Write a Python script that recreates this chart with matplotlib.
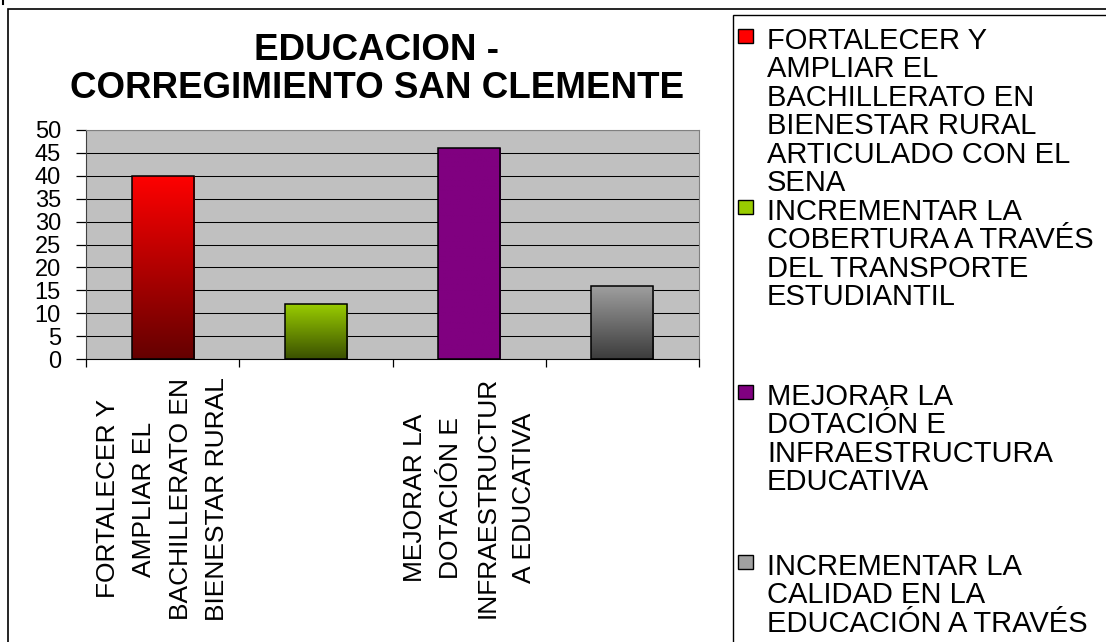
import numpy as np
import matplotlib
matplotlib.use("Agg")
import matplotlib.pyplot as plt
from matplotlib.patches import Rectangle
from matplotlib.lines import Line2D
from matplotlib.colors import LinearSegmentedColormap

plt.rcParams['font.family'] = ['Liberation Sans', 'DejaVu Sans']

# Datos
categorias = [
    "FORTALECER Y\nAMPLIAR EL\nBACHILLERATO EN\nBIENESTAR RURAL",
    "",
    "MEJORAR LA\nDOTACIÓN E\nINFRAESTRUCTUR\nA EDUCATIVA",
    "",
]
valores = [40, 12, 46, 16]
leyenda = [
    "FORTALECER Y\nAMPLIAR EL\nBACHILLERATO EN\nBIENESTAR RURAL\nARTICULADO CON EL\nSENA",
    "INCREMENTAR LA\nCOBERTURA A TRAVÉS\nDEL TRANSPORTE\nESTUDIANTIL",
    "MEJORAR LA\nDOTACIÓN E\nINFRAESTRUCTURA\nEDUCATIVA",
    "INCREMENTAR LA\nCALIDAD EN LA\nEDUCACIÓN A TRAVÉS",
]
# colores (arriba, abajo) de cada barra
colores = [("#ff0000", "#640000"), ("#99cc00", "#3a5000"),
           ("#800080", "#800080"), ("#a0a0a0", "#3c3c3c")]
yticks = list(range(0, 51, 5))

W, H = 1106, 642
fig = plt.figure(figsize=(W / 100, H / 100), dpi=100)
fx = lambda px: px / W
fy = lambda py: 1 - py / H

ax = fig.add_axes([fx(86), fy(359), fx(699) - fx(86), fy(130) - fy(359)])
ax.set_facecolor("#c0c0c0")
x = np.arange(len(valores))
barras = ax.bar(x, valores, width=0.405, color="none", edgecolor="black",
                linewidth=1.1, zorder=3)

# degradado dentro de cada barra
for b, (c1, c2) in zip(barras, colores):
    cmap = LinearSegmentedColormap.from_list("g", [c2, c1])
    grad = np.linspace(0, 1, 256).reshape(-1, 1)
    x0, y0 = b.get_x(), b.get_y()
    im = ax.imshow(grad, cmap=cmap, origin="lower", aspect="auto",
                   extent=[x0, x0 + b.get_width(), y0, y0 + b.get_height()],
                   zorder=2)
    im.set_clip_path(b)

ax.set_xlim(-0.5, len(valores) - 0.5)
ax.set_ylim(0, 50)
ax.set_yticks(yticks)
ax.yaxis.grid(True, color="black", linewidth=0.75)
ax.set_axisbelow(True)
ax.tick_params(axis="y", labelsize=17, length=7, width=0.9, pad=11)

# marcas en los limites de categoria, etiquetas en el centro
ax.set_xticks(np.arange(len(valores) + 1) - 0.5)
ax.set_xticklabels([])
ax.tick_params(axis="x", which="major", length=6, width=0.9)
ax.set_xticks(x, minor=True)
ax.set_xticklabels(categorias, minor=True, rotation=90, fontsize=19,
                   linespacing=1.65, multialignment="center")
ax.tick_params(axis="x", which="minor", length=0, pad=13)

for s in ["top", "right"]:
    ax.spines[s].set_color("#808080")
ax.spines["left"].set_color("#404040")
ax.spines["bottom"].set_color("black")

fig.text(fx(377), fy(33), "EDUCACION -\nCORREGIMIENTO SAN CLEMENTE",
         ha="center", va="top", fontsize=26.5, fontweight="bold",
         linespacing=1.1)

# marco exterior y de la leyenda
fig.add_artist(Rectangle((fx(8), fy(700)), fx(1200), fy(9) - fy(700),
                         transform=fig.transFigure, fill=False,
                         edgecolor="black", linewidth=1.2))
fig.add_artist(Line2D([fx(3), fx(3)], [fy(0), fy(4)],
                      transform=fig.transFigure, color="black", linewidth=1.5))
fig.add_artist(Rectangle((fx(733), fy(700)), fx(500), fy(15) - fy(700),
                         transform=fig.transFigure, fill=False,
                         edgecolor="black", linewidth=1.0))

tops = [27, 198, 383, 553]
for txt, (c1, c2), t in zip(leyenda, colores, tops):
    fig.add_artist(Rectangle((fx(738), fy(t + 16)), fx(15), fy(t + 2) - fy(t + 16),
                             transform=fig.transFigure, facecolor=c1,
                             edgecolor="black", linewidth=1.0))
    fig.text(fx(767), fy(t), txt, ha="left", va="top", fontsize=21,
             linespacing=1.02)

fig.savefig("out.png", dpi=100)
